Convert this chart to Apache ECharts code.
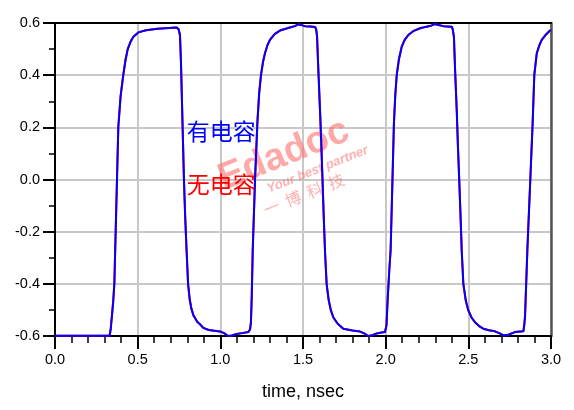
<!DOCTYPE html>
<html>
<head>
<meta charset="utf-8">
<script src="https://cdn.jsdelivr.net/npm/echarts@6/dist/echarts.min.js"></script>
<style>
html,body{margin:0;padding:0;background:#fff;}
#chart{width:574px;height:410px;}
</style>
</head>
<body>
<div id="chart"></div>
<script>
// time (ns)
var timeNs = [0, 0.33, 0.337, 0.345, 0.352, 0.359, 0.371, 0.383, 0.397, 0.413, 0.427, 0.44, 0.456, 0.474, 0.504, 0.55, 0.62, 0.69, 0.736,
  0.748, 0.756, 0.762, 0.768, 0.774, 0.78, 0.788, 0.796, 0.805, 0.815, 0.825, 0.837, 0.86, 0.877, 0.897, 0.93, 0.998, 1.02, 1.048, 1.07, 1.099, 1.14, 1.17,
  1.18, 1.185, 1.19, 1.196, 1.21, 1.224, 1.235, 1.246, 1.258, 1.27, 1.285, 1.30, 1.33, 1.361, 1.39, 1.421, 1.45, 1.472, 1.49, 1.512, 1.545, 1.573,
  1.58, 1.585, 1.593, 1.603, 1.61, 1.618, 1.626, 1.633, 1.643, 1.655, 1.668, 1.683, 1.71, 1.744, 1.80, 1.845, 1.87, 1.895, 1.92, 1.946, 1.975, 1.996,
  2.005, 2.013, 2.022, 2.03, 2.04, 2.05, 2.058, 2.067, 2.08, 2.097, 2.115, 2.137, 2.17, 2.208, 2.248, 2.275, 2.298, 2.32, 2.349, 2.4,
  2.406, 2.413, 2.42, 2.43, 2.437, 2.445, 2.453, 2.46, 2.47, 2.485, 2.5, 2.52, 2.54, 2.565, 2.59, 2.625, 2.661, 2.69, 2.711, 2.742, 2.782, 2.833,
  2.838, 2.843, 2.85, 2.857, 2.873, 2.889, 2.899, 2.914, 2.93, 2.944, 2.97, 2.994, 3.0];
// 有电容 (with capacitor), volts
var withCap = [-0.599, -0.599, -0.575, -0.52, -0.47, -0.4, -0.1, 0.2, 0.32, 0.4, 0.46, 0.5, 0.527, 0.547, 0.564, 0.572, 0.578, 0.581, 0.583,
  0.575, 0.554, 0.45, 0.3, 0.15, 0.0, -0.15, -0.272, -0.4, -0.46, -0.495, -0.52, -0.545, -0.555, -0.569, -0.577, -0.583, -0.588, -0.6, -0.598, -0.592, -0.588, -0.585,
  -0.575, -0.55, -0.45, -0.272, 0.0, 0.215, 0.33, 0.4, 0.45, 0.484, 0.515, 0.535, 0.558, 0.571, 0.577, 0.583, 0.588, 0.595, 0.592, 0.588, 0.587, 0.585,
  0.575, 0.55, 0.42, 0.266, 0.15, 0.0, -0.15, -0.272, -0.4, -0.46, -0.5, -0.528, -0.553, -0.572, -0.579, -0.583, -0.59, -0.6, -0.597, -0.59, -0.587, -0.585,
  -0.56, -0.45, -0.35, -0.272, -0.03, 0.215, 0.32, 0.4, 0.46, 0.509, 0.535, 0.554, 0.57, 0.58, 0.586, 0.59, 0.596, 0.592, 0.588, 0.586,
  0.575, 0.547, 0.42, 0.266, 0.13, 0.0, -0.14, -0.272, -0.4, -0.465, -0.502, -0.53, -0.547, -0.562, -0.572, -0.578, -0.582, -0.59, -0.598, -0.595, -0.585, -0.582,
  -0.56, -0.528, -0.4, -0.272, -0.03, 0.215, 0.4, 0.484, 0.515, 0.535, 0.556, 0.571, 0.573];
// 无电容 (without capacitor), volts
var withoutCap = [-0.599, -0.599, -0.57, -0.515, -0.465, -0.395, -0.095, 0.205, 0.322, 0.402, 0.461, 0.5, 0.527, 0.547, 0.564, 0.572, 0.578, 0.581, 0.583,
  0.575, 0.552, 0.445, 0.295, 0.145, -0.005, -0.155, -0.276, -0.403, -0.462, -0.496, -0.52, -0.545, -0.555, -0.569, -0.577, -0.583, -0.588, -0.6, -0.598, -0.592, -0.588, -0.585,
  -0.573, -0.545, -0.445, -0.268, 0.005, 0.22, 0.333, 0.402, 0.451, 0.484, 0.515, 0.535, 0.558, 0.571, 0.577, 0.583, 0.588, 0.595, 0.592, 0.588, 0.587, 0.585,
  0.574, 0.548, 0.415, 0.26, 0.145, -0.005, -0.155, -0.276, -0.403, -0.462, -0.5, -0.528, -0.553, -0.572, -0.579, -0.583, -0.59, -0.6, -0.597, -0.59, -0.587, -0.585,
  -0.556, -0.445, -0.345, -0.268, -0.025, 0.22, 0.323, 0.402, 0.461, 0.509, 0.535, 0.554, 0.57, 0.58, 0.586, 0.59, 0.596, 0.592, 0.588, 0.586,
  0.574, 0.545, 0.415, 0.26, 0.125, -0.005, -0.145, -0.276, -0.403, -0.466, -0.502, -0.53, -0.547, -0.562, -0.572, -0.578, -0.582, -0.59, -0.598, -0.595, -0.585, -0.582,
  -0.556, -0.522, -0.395, -0.268, -0.025, 0.22, 0.402, 0.485, 0.515, 0.535, 0.556, 0.571, 0.573];

var xTicks = [0, 0.5, 1.0, 1.5, 2.0, 2.5, 3.0];
var yTicks = [-0.6, -0.4, -0.2, 0.0, 0.2, 0.4, 0.6];
var labels = [{ text: '有电容', t: 0.797, v: 0.185, color: '#0000ff' },
              { text: '无电容', t: 0.797, v: -0.018, color: '#ff0000' }];

function pairs(ts, vs) { return ts.map(function (t, i) { return [t, vs[i]]; }); }

var chart = echarts.init(document.getElementById('chart'), null, { renderer: 'canvas' });
var fontFam = 'Liberation Sans, Arial, sans-serif';
var option = {
  animation: false,
  backgroundColor: '#ffffff',
  grid: { left: 55, right: 23, top: 23, bottom: 74, containLabel: false },
  xAxis: [{
    type: 'value', min: xTicks[0], max: xTicks[xTicks.length - 1], interval: 0.5, position: 'bottom',
    axisLine: { show: true, onZero: false, lineStyle: { color: '#000', width: 2 } },
    axisTick: { show: true, inside: false, length: 13, lineStyle: { color: '#000', width: 2 } },
    minorTick: { show: true, splitNumber: 5, length: 7, lineStyle: { color: '#000', width: 1.5 } },
    axisLabel: { show: true, margin: 16, color: '#000', fontSize: 14.5, fontFamily: fontFam, formatter: function (v) { return v.toFixed(1); } },
    splitLine: { show: true, lineStyle: { color: '#c8c8c8', width: 2 } },
    minorSplitLine: { show: false },
    name: 'time, nsec', nameLocation: 'middle', nameGap: 47,
    nameTextStyle: { color: '#000', fontSize: 18, fontFamily: fontFam }
  }, {
    type: 'value', min: xTicks[0], max: xTicks[xTicks.length - 1], position: 'top',
    axisLine: { show: true, onZero: false, lineStyle: { color: '#000', width: 2 } },
    axisTick: { show: false }, axisLabel: { show: false }, splitLine: { show: false }
  }],
  yAxis: [{
    type: 'value', min: yTicks[0], max: yTicks[yTicks.length - 1], interval: 0.2, position: 'left',
    axisLine: { show: true, onZero: false, lineStyle: { color: '#000', width: 2 } },
    axisTick: { show: true, inside: false, length: 12, lineStyle: { color: '#000', width: 2 } },
    minorTick: { show: true, splitNumber: 2, length: 6, lineStyle: { color: '#000', width: 1.5 } },
    axisLabel: { show: true, margin: 15, color: '#000', fontSize: 14.5, fontFamily: fontFam, formatter: function (v) { return v.toFixed(1); } },
    splitLine: { show: true, lineStyle: { color: '#c8c8c8', width: 2 } }
  }, {
    type: 'value', min: yTicks[0], max: yTicks[yTicks.length - 1], position: 'right',
    axisLine: { show: true, onZero: false, lineStyle: { color: '#555', width: 2.5 } },
    axisTick: { show: false }, axisLabel: { show: false }, splitLine: { show: false }
  }],
  series: [{
    name: '无电容', type: 'line', data: pairs(timeNs, withoutCap), showSymbol: false, symbol: 'none',
    lineStyle: { color: '#ff0000', width: 2 }, z: 3, silent: true
  }, {
    name: '有电容', type: 'line', data: pairs(timeNs, withCap), showSymbol: false, symbol: 'none',
    lineStyle: { color: '#0000ff', width: 2 }, z: 4, silent: true
  }]
};
chart.setOption(option);

var gfx = [];
// watermark
gfx.push({
  type: 'group', x: 289, y: 168, rotation: 0.38, z: 1, silent: true,
  children: [
    { type: 'text', x: 0, y: -14, style: { text: 'Edadoc', font: 'bold 38px Liberation Sans, Arial', fill: 'rgba(255,110,110,0.6)', textAlign: 'center', textVerticalAlign: 'middle' } },
    { type: 'text', x: 26, y: 12, style: { text: 'Your best partner', font: 'bold italic 13px Liberation Sans, Arial', fill: 'rgba(255,110,110,0.55)', textAlign: 'center', textVerticalAlign: 'middle' } },
    { type: 'text', x: 4, y: 30, style: { text: '一  博  科  技', font: '16px Noto Sans CJK SC', fill: 'rgba(255,110,110,0.55)', textAlign: 'center', textVerticalAlign: 'middle' } }
  ]
});
labels.forEach(function (l) {
  var p = chart.convertToPixel({ xAxisIndex: 0, yAxisIndex: 0 }, [l.t, l.v]);
  gfx.push({ type: 'text', x: p[0], y: p[1], z: 10, silent: true,
    style: { text: l.text, font: '23px Noto Sans CJK SC', fill: l.color, textAlign: 'left', textVerticalAlign: 'middle' } });
});
chart.setOption({ graphic: gfx });
</script>
</body>
</html>
